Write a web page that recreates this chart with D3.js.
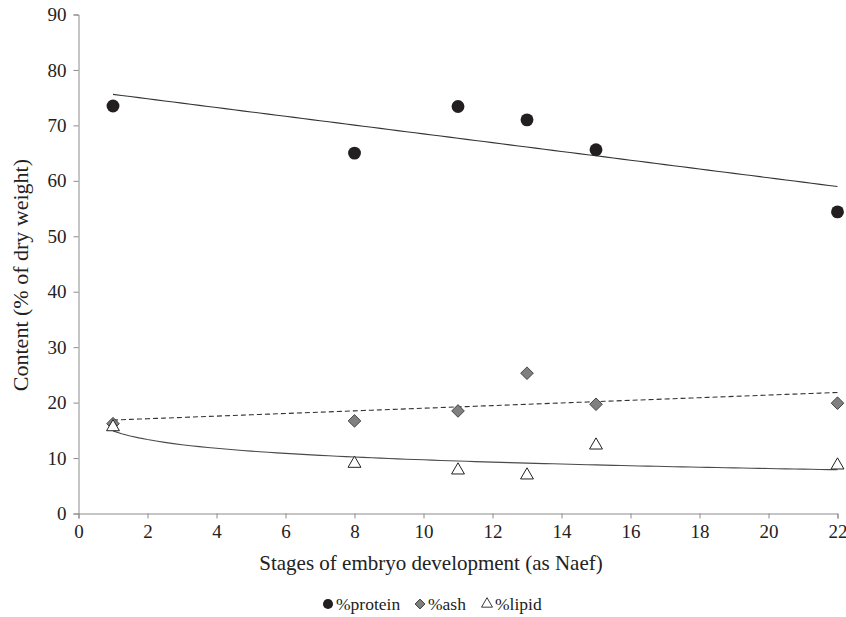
<!DOCTYPE html>
<html>
<head>
<meta charset="utf-8">
<script src="https://cdn.jsdelivr.net/npm/d3@7"></script>
<style>
  html, body { margin: 0; padding: 0; background: #fff; }
  svg { display: block; }
</style>
</head>
<body>
<svg id="chart" width="846" height="617"></svg>
<script>
// Embryo development stages (Naef) and composition, % of dry weight
const stages  = [1, 8, 11, 13, 15, 22];
const protein = [73.5, 65.0, 73.4, 71.0, 65.6, 54.4];
const ash     = [16.2, 16.7, 18.5, 25.3, 19.7, 19.9];
const lipid   = [15.6, 9.0, 7.8, 6.9, 12.3, 8.7];

const xTicks = [0, 2, 4, 6, 8, 10, 12, 14, 16, 18, 20, 22];
const yTicks = [0, 10, 20, 30, 40, 50, 60, 70, 80, 90];

const FONT = "'Liberation Serif', 'Times New Roman', serif";
const margin = { left: 78.5, right: 8.5, top: 14.5, bottom: 103.5 };
const W = 846, H = 617;

const svg = d3.select("#chart");
const x = d3.scaleLinear().domain([0, 22]).range([margin.left, W - margin.right]);
const y = d3.scaleLinear().domain([0, 90]).range([H - margin.bottom, margin.top]);

// least-squares fit of y = a + b * f(x)
function fit(xs, ys, f) {
  const fx = xs.map(f);
  const mx = d3.mean(fx), my = d3.mean(ys);
  let sxy = 0, sxx = 0;
  for (let i = 0; i < xs.length; i++) {
    sxy += (fx[i] - mx) * (ys[i] - my);
    sxx += (fx[i] - mx) * (fx[i] - mx);
  }
  const b = sxy / sxx;
  const a = my - b * mx;
  return v => a + b * f(v);
}

const axisColor = "#8c8c8c";

// y axis
const yAxis = svg.append("g")
  .attr("transform", `translate(${margin.left},0)`)
  .call(d3.axisLeft(y).tickValues(yTicks).tickSize(5).tickPadding(7).tickFormat(d3.format("d")));
yAxis.select(".domain").attr("stroke", axisColor);
yAxis.selectAll(".tick line").attr("stroke", axisColor);
yAxis.selectAll(".tick text")
  .attr("fill", "#222")
  .style("font-family", FONT).style("font-size", "19px");

// x axis
const xAxis = svg.append("g")
  .attr("transform", `translate(0,${H - margin.bottom})`)
  .call(d3.axisBottom(x).tickValues(xTicks).tickSize(5).tickPadding(6).tickFormat(d3.format("d")));
xAxis.select(".domain").attr("stroke", axisColor);
xAxis.selectAll(".tick line").attr("stroke", axisColor);
xAxis.selectAll(".tick text")
  .attr("fill", "#222")
  .style("font-family", FONT).style("font-size", "19px");

// axis titles
svg.append("text")
  .attr("x", 431).attr("y", 570)
  .attr("text-anchor", "middle")
  .attr("fill", "#222")
  .style("font-family", FONT).style("font-size", "21px")
  .text("Stages of embryo development (as Naef)");

svg.append("text")
  .attr("transform", `translate(28,${y(43)}) rotate(-90)`)
  .attr("text-anchor", "middle")
  .attr("fill", "#222")
  .style("font-family", FONT).style("font-size", "22px")
  .text("Content (% of dry weight)");

// trend lines
const xs = d3.range(1, 22.001, 0.25);
const line = f => d3.line().x(d => x(d)).y(d => y(f(d)))(xs);

const proteinFit = fit(stages, protein, v => v);
const ashFit     = fit(stages, ash, v => v);
const lipidFit   = fit(stages, lipid, v => Math.log(v));

svg.append("path").attr("d", line(proteinFit))
  .attr("fill", "none").attr("stroke", "#333").attr("stroke-width", 1.1);
svg.append("path").attr("d", line(ashFit))
  .attr("fill", "none").attr("stroke", "#333").attr("stroke-width", 1.1)
  .attr("stroke-dasharray", "5,3");
svg.append("path").attr("d", line(lipidFit))
  .attr("fill", "none").attr("stroke", "#4a4a4a").attr("stroke-width", 1.1);

// markers
const circleSym  = d3.symbol().type(d3.symbolCircle).size(130);
const diamondSym = d3.symbol().type(d3.symbolSquare).size(80);
const triSym     = d3.symbol().type(d3.symbolTriangle).size(72);

svg.append("g").selectAll("path").data(stages.map((s, i) => [s, protein[i]]))
  .join("path")
  .attr("d", circleSym)
  .attr("transform", d => `translate(${x(d[0])},${y(d[1])})`)
  .attr("fill", "#231f20");

svg.append("g").selectAll("path").data(stages.map((s, i) => [s, ash[i]]))
  .join("path")
  .attr("d", diamondSym)
  .attr("transform", d => `translate(${x(d[0])},${y(d[1])}) rotate(45)`)
  .attr("fill", "#808080").attr("stroke", "#333").attr("stroke-width", 0.8);

svg.append("g").selectAll("path").data(stages.map((s, i) => [s, lipid[i]]))
  .join("path")
  .attr("d", triSym)
  .attr("transform", d => `translate(${x(d[0])},${y(d[1])})`)
  .attr("fill", "#fff").attr("stroke", "#222").attr("stroke-width", 1);

// legend
const legendItems = [
  { label: "%protein", type: d3.symbolCircle,   size: 80, rot: 0,  fill: "#231f20", stroke: "none", x: 328 },
  { label: "%ash",     type: d3.symbolSquare,   size: 48, rot: 45, fill: "#808080", stroke: "#333", x: 420 },
  { label: "%lipid",   type: d3.symbolTriangle, size: 52, rot: 0,  fill: "#fff",    stroke: "#222", x: 487 }
];
const legY = 604;
const lg = svg.append("g");
legendItems.forEach(it => {
  lg.append("path")
    .attr("d", d3.symbol().type(it.type).size(it.size))
    .attr("transform", `translate(${it.x},${legY}) rotate(${it.rot})`)
    .attr("fill", it.fill).attr("stroke", it.stroke).attr("stroke-width", 0.9);
  lg.append("text")
    .attr("x", it.x + 8).attr("y", legY + 5.5)
    .attr("fill", "#222")
    .style("font-family", FONT).style("font-size", "17.5px")
    .text(it.label);
});
</script>
</body>
</html>
